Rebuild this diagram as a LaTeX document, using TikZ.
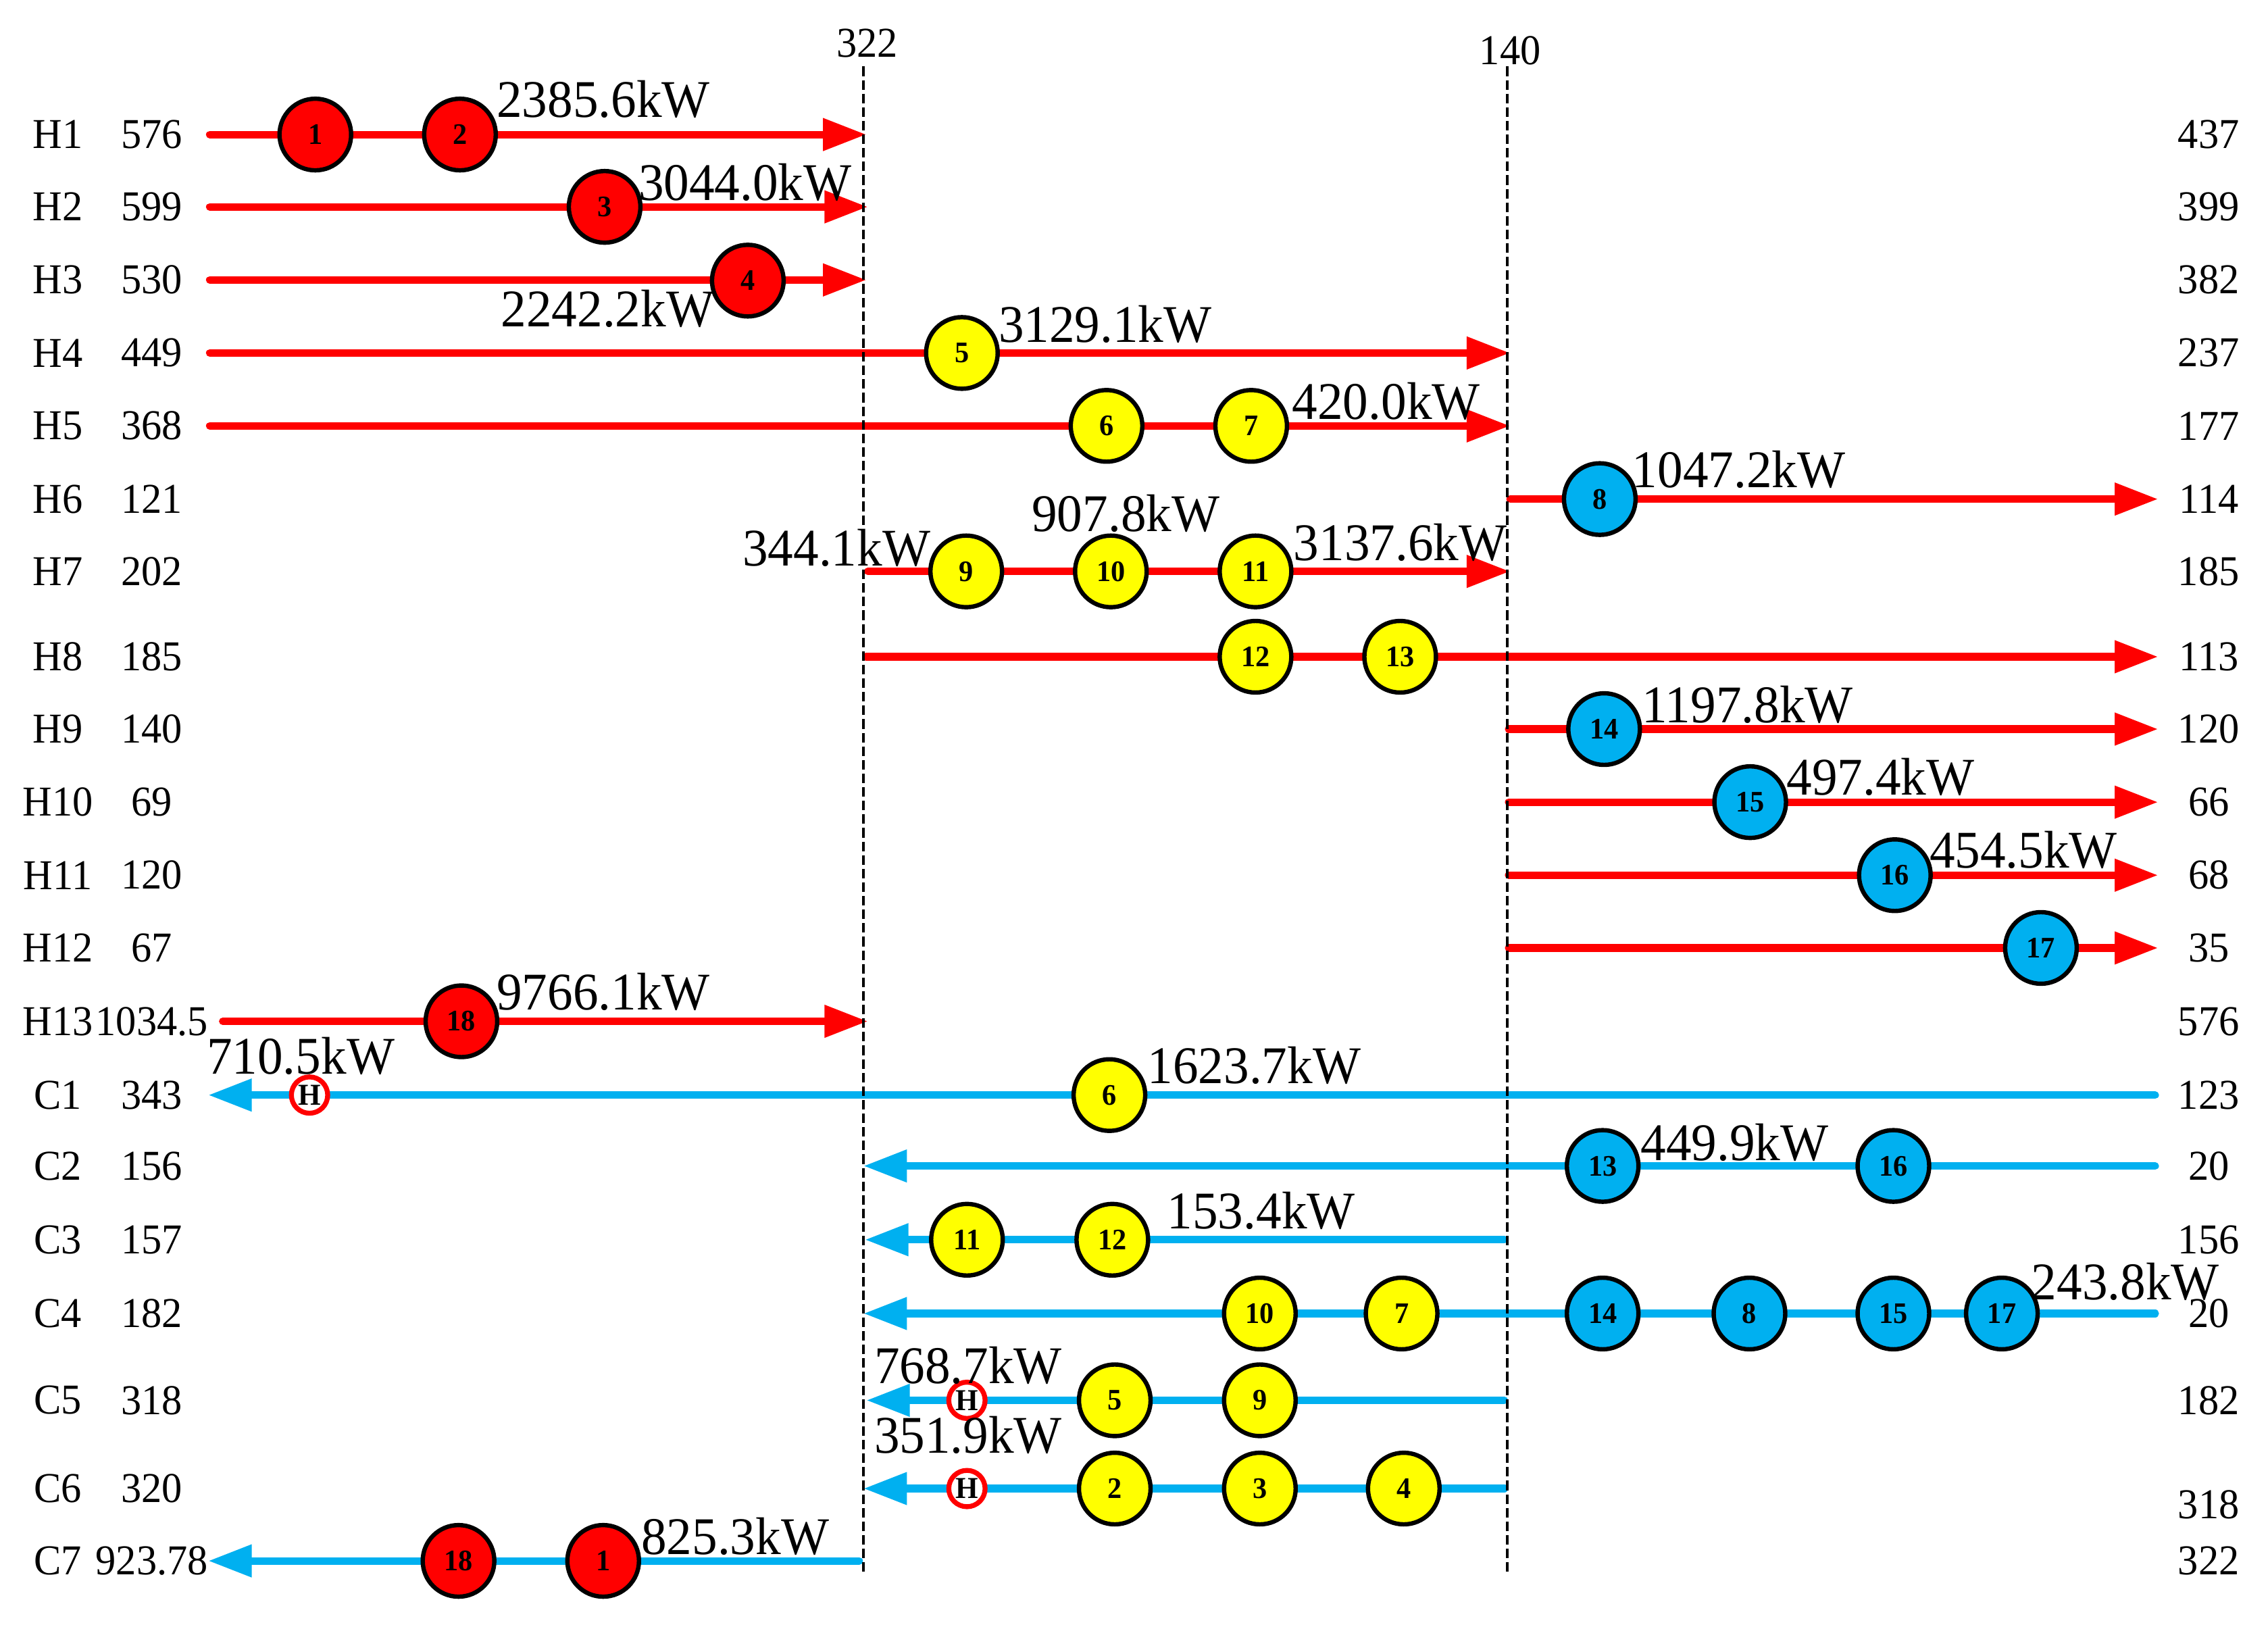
\documentclass[tikz,border=0pt]{standalone}
\usepackage{fontspec}
\setmainfont{Liberation Serif}[FakeStretch=0.96]
\usetikzlibrary{arrows.meta}
\definecolor{hotred}{RGB}{255,0,0}
\definecolor{coldblue}{RGB}{0,176,240}
\definecolor{hxyellow}{RGB}{255,255,0}
\begin{document}
\begin{tikzpicture}[x=0.5pt,y=-0.5pt,
  hotline/.style={draw=hotred,line width=2.6pt,line cap=round,-{Triangle[length=15pt,width=10.7pt]}},
  coldline/.style={draw=coldblue,line width=2.6pt,line cap=round,-{Triangle[length=15pt,width=10.7pt]}},
  coldplain/.style={draw=coldblue,line width=2.6pt,line cap=round},
  hxbase/.style={circle,draw=black,line width=1.5pt,minimum size=24.75pt,inner sep=0pt,font=\fontsize{10.3}{10.3}\selectfont\bfseries},
  hxr/.style={hxbase,fill=hotred},
  hxy/.style={hxbase,fill=hxyellow},
  hxb/.style={hxbase,fill=coldblue},
  heater/.style={circle,draw=hotred,fill=white,line width=1.7pt,minimum size=12.55pt,inner sep=0pt,font=\fontsize{10.5}{10.5}\selectfont\bfseries},
  kw/.style={anchor=west,inner sep=0pt,font=\fontsize{18.3}{18.3}\selectfont},
  lbl/.style={inner sep=0pt,font=\fontsize{14.7}{14.7}\selectfont},
  divider/.style={draw=black,line width=0.8pt,dash pattern=on 3.3pt off 1.4pt}
]
\fill[white] (0,0) rectangle (1568,1123);
\useasboundingbox (0,0) rectangle (1568,1123);

% ---- stream lines ----
\coordinate (h1s) at (145,93);     \coordinate (h1e) at (599,93);
\coordinate (h2s) at (145,143);    \coordinate (h2e) at (600,143);
\coordinate (h3s) at (145,193.5);  \coordinate (h3e) at (599,193.5);
\coordinate (h4s) at (145,244);    \coordinate (h4e) at (1044,244);
\coordinate (h5s) at (145,294.4);  \coordinate (h5e) at (1044,294.4);
\coordinate (h6s) at (1044,345);   \coordinate (h6e) at (1492,345);
\coordinate (h7s) at (600,395);    \coordinate (h7e) at (1044,395);
\coordinate (h8s) at (599,454);    \coordinate (h8e) at (1492,454);
\coordinate (h9s) at (1043,504);   \coordinate (h9e) at (1492,504);
\coordinate (h10s) at (1043,554.5);\coordinate (h10e) at (1492,554.5);
\coordinate (h11s) at (1043,605);  \coordinate (h11e) at (1492,605);
\coordinate (h12s) at (1043,655.3);\coordinate (h12e) at (1492,655.3);
\coordinate (h13s) at (154,706);   \coordinate (h13e) at (600,706);
\coordinate (c1s) at (1490,757);   \coordinate (c1e) at (144,757);
\coordinate (c2s) at (1490,806);   \coordinate (c2e) at (597,806);
\coordinate (c3s) at (1040,857);   \coordinate (c3e) at (598,857);
\coordinate (c4s) at (1490,908);   \coordinate (c4e) at (597,908);
\coordinate (c5s) at (1040,968);   \coordinate (c5e) at (599,968);
\coordinate (c6s) at (1040,1029);  \coordinate (c6e) at (597,1029);
\coordinate (c7s) at (594,1079);   \coordinate (c7e) at (144,1079);

\foreach \n in {h1,h2,h3,h4,h5,h6,h7,h8,h9,h10,h11,h12,h13}
  \draw[hotline] (\n s) -- (\n e);
\foreach \n in {c1,c2,c3,c4,c5,c6,c7}
  \draw[coldline] (\n s) -- (\n e);

% ---- pinch dividers ----
\coordinate (d1t) at (597,46);  \coordinate (d1b) at (597,1088);
\coordinate (d2t) at (1042,46); \coordinate (d2b) at (1042,1088);
\draw[divider] (d1t) -- (d1b);
\draw[divider] (d2t) -- (d2b);
\node[lbl] (t322) at (599.5,30) {322};
\node[lbl] (t140) at (1044,35) {140};

% ---- exchangers ----
\node[hxr] (x1a) at (218,93) {1};
\node[hxr] (x2a) at (318,93) {2};
\node[hxr] (x3a) at (418,143) {3};
\node[hxr] (x4a) at (517,194) {4};
\node[hxy] (x5a) at (665,244) {5};
\node[hxy] (x6a) at (765,294.4) {6};
\node[hxy] (x7a) at (865,294.4) {7};
\node[hxb] (x8a) at (1106,345) {8};
\node[hxy] (x9a) at (668,395) {9};
\node[hxy] (x10a) at (768,395) {10};
\node[hxy] (x11a) at (868,395) {11};
\node[hxy] (x12a) at (868,454) {12};
\node[hxy] (x13a) at (968,454) {13};
\node[hxb] (x14a) at (1109,504) {14};
\node[hxb] (x15a) at (1210,554.5) {15};
\node[hxb] (x16a) at (1310,605) {16};
\node[hxb] (x17a) at (1411,655.3) {17};
\node[hxr] (x18a) at (319,706) {18};

\node[heater] (hc1) at (214,757) {H};
\node[hxy] (x6b) at (767,757) {6};
\node[hxb] (x13b) at (1108,806) {13};
\node[hxb] (x16b) at (1309,806) {16};
\node[hxy] (x11b) at (668.5,857) {11};
\node[hxy] (x12b) at (769,857) {12};
\node[hxy] (x10b) at (871,908) {10};
\node[hxy] (x7b) at (969,908) {7};
\node[hxb] (x14b) at (1108,908) {14};
\node[hxb] (x8b) at (1209.5,908) {8};
\node[hxb] (x15b) at (1309,908) {15};
\node[hxb] (x17b) at (1384,908) {17};
\node[heater] (hc5) at (668.5,968) {H};
\node[hxy] (x5b) at (770.7,968) {5};
\node[hxy] (x9b) at (871,968) {9};
\node[heater] (hc6) at (668.5,1029) {H};
\node[hxy] (x2b) at (770.7,1029) {2};
\node[hxy] (x3b) at (871,1029) {3};
\node[hxy] (x4b) at (970.5,1029) {4};
\node[hxr] (x18b) at (317,1079) {18};
\node[hxr] (x1b) at (417,1079) {1};

% ---- duties ----
\node[kw] (q1) at (343,68.6) {2385.6kW};
\node[kw] (q2) at (441,126) {3044.0kW};
\node[kw] (q3) at (346,213.6) {2242.2kW};
\node[kw] (q4) at (690,224) {3129.1kW};
\node[kw] (q5) at (893,277.6) {420.0kW};
\node[kw] (q6) at (1128,324.7) {1047.2kW};
\node[kw] (q7) at (513,378.7) {344.1kW};
\node[kw] (q8) at (713,355) {907.8kW};
\node[kw] (q9) at (894,375) {3137.6kW};
\node[kw] (q10) at (1134.6,487) {1197.8kW};
\node[kw] (q11) at (1234.8,537) {497.4kW};
\node[kw] (q12) at (1333.6,587.7) {454.5kW};
\node[kw] (q13) at (343,685.7) {9766.1kW};
\node[kw] (q14) at (142.6,730) {710.5kW};
\node[kw] (q15) at (793,736.6) {1623.7kW};
\node[kw] (q16) at (1134,790) {449.9kW};
\node[kw] (q17) at (806.6,837) {153.4kW};
\node[kw] (q18) at (1404,886) {243.8kW};
\node[kw] (q19) at (604,944) {768.7kW};
\node[kw] (q20) at (604,992) {351.9kW};
\node[kw] (q21) at (443,1062) {825.3kW};

% ---- stream names and temperatures ----
\foreach \nm/\tin/\tout/\y/\yo [count=\i] in {
  H1/576/437/93/93, H2/599/399/143/143, H3/530/382/193.5/193.5,
  H4/449/237/244/244, H5/368/177/294.4/294.4, H6/121/114/345/345,
  H7/202/185/395/395, H8/185/113/454/454, H9/140/120/504/504,
  H10/69/66/554.5/554.5, H11/120/68/605/605, H12/67/35/655.3/655.3,
  H13/1034.5/576/706/706, C1/343/123/757/757, C2/156/20/806/806,
  C3/157/156/857/857, C4/182/20/908/908, C5/318/182/968/968,
  C6/320/318/1029/1040, C7/923.78/322/1079/1079}
{
  \node[lbl] (nm\i) at (40,\y) {\nm};
  \node[lbl] (ti\i) at (105,\y) {\tin};
  \node[lbl] (to\i) at (1527,\yo) {\tout};
}
\end{tikzpicture}
\end{document}
